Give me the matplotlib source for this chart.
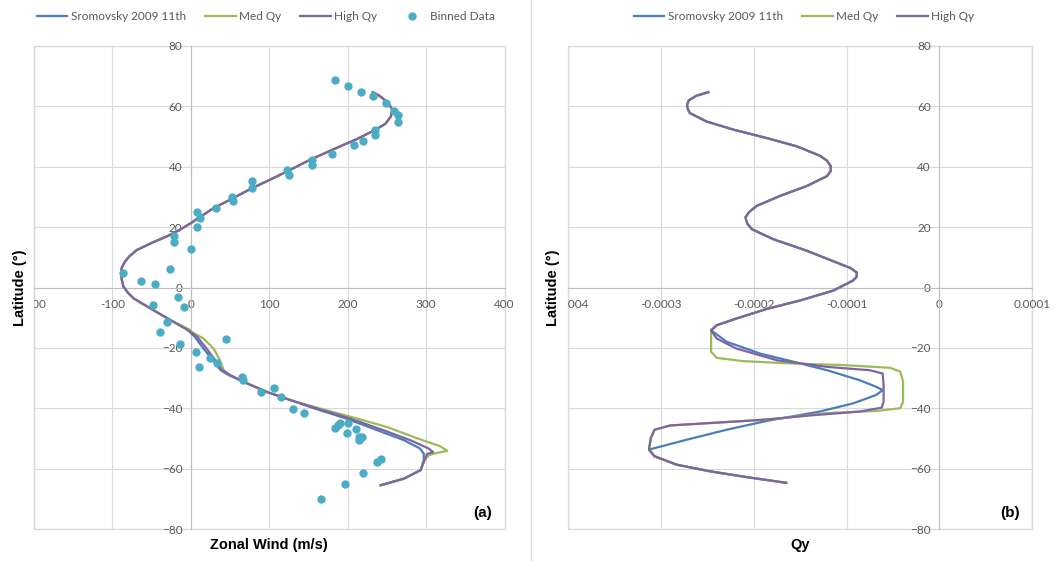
import numpy as np
import matplotlib
matplotlib.use('Agg')
import matplotlib.pyplot as plt
from matplotlib.lines import Line2D

# ---- data ----
# (a) zonal wind profiles, northern part shared by all three fits
north_lat = [64.7, 63.6, 62.4, 60.6, 58.9, 56.6, 54.2, 52.2, 49.2, 45.8, 42.3, 39.0, 35.7, 32.9,
             29.6, 26.3, 22.4, 21.3, 19.0, 17.0, 15.0, 12.4, 10.4, 8.6, 6.6, 4.7, 2.5, 0.3,
             -1.8, -3.6, -6.4, -10.8]
north_wind = [232, 240, 246, 253, 257, 255, 248, 235, 212, 182, 152, 127, 101, 78,
              54, 29, 6, 0, -15, -30, -48, -69, -78, -84, -88, -89, -88, -86,
              -80, -73, -55, -26]

srom_lat_s = [-13.9, -16.3, -20.2, -24.0, -27.4, -29.0, -31.8, -34.6, -37.3, -40.1,
              -43.4, -47.3, -50.6, -53.3, -55.0, -57.2, -60.5, -63.3, -65.5]
srom_wind_s = [-5, 5, 16, 28, 38, 48, 72, 97, 127, 158,
               198, 238, 272, 292, 297, 297, 293, 272, 242]

med_lat_s = [-13.9, -14.7, -16.9, -20.2, -24.0, -27.4, -29.0, -31.8, -34.6, -37.3,
             -40.1, -43.4, -46.2, -50.0, -52.6, -54.1, -54.8, -55.5, -57.2, -60.5,
             -63.3, -65.5]
med_wind_s = [-2, 1, 16, 29, 37, 42, 50, 72, 97, 127,
              165, 212, 250, 289, 318, 327, 314, 304, 298, 293,
              272, 242]

high_lat_s = [-13.9, -16.3, -20.2, -24.0, -27.4, -29.0, -31.8, -34.6, -37.3, -40.1,
              -43.4, -47.3, -50.6, -53.3, -54.5, -55.2, -57.2, -60.5, -63.3, -65.5]
high_wind_s = [-5, 8, 20, 31, 40, 50, 72, 97, 127, 161,
               203, 246, 280, 303, 309, 301, 298, 293, 272, 242]

binned_wind = [184, 201, 217, 232, 249, 259, 264, 264, 235, 235, 220, 208, 180, 155,
               154, 122, 125, 78, 78, 52, 54, 32, 8, 12, 8, 0, -86, -64, -46, -26,
               -21, -21, -17, -48, -9, -31, -39, -14, 7, 11, 45, 25, 34, 65, 67,
               90, 106, 115, 130, 144, 184, 188, 190, 201, 199, 210, 214, 218, 214,
               238, 243, 220, 196, 166]
binned_lat = [68.6, 66.8, 64.9, 63.3, 61.0, 58.6, 57.0, 54.8, 52.2, 50.5, 48.4, 47.2,
              44.3, 42.3, 40.7, 39.0, 37.3, 35.3, 33.1, 29.9, 28.7, 26.3, 25.1, 23.0,
              20.0, 12.8, 4.7, 2.3, 1.2, 6.0, 16.9, 15.2, -3.3, -5.8, -6.6, -11.5,
              -14.7, -18.7, -21.3, -26.5, -17.0, -23.5, -24.9, -29.6, -30.7, -34.6,
              -33.2, -36.2, -40.2, -41.7, -46.7, -45.6, -44.8, -44.8, -48.2, -47.0,
              -49.5, -49.5, -50.6, -57.8, -56.9, -61.3, -65.0, -70.2]

# (b) Qy profiles (units of 1e-4), northern part shared
qn_lat = [64.7, 63.5, 62.0, 60.5, 59.0, 57.8, 55.0, 52.3, 49.5, 46.8, 43.7, 42.0, 40.2,
          38.6, 36.9, 33.6, 30.3, 27.0, 25.0, 23.2, 21.2, 19.3, 16.0, 12.2, 8.3, 6.5,
          5.0, 3.6, 2.3, -1.0, -4.3, -7.1, -10.3, -12.5, -14.2]
qn_val = [-2.49, -2.62, -2.70, -2.72, -2.71, -2.69, -2.51, -2.22, -1.86, -1.54, -1.29, -1.21,
          -1.17, -1.17, -1.21, -1.43, -1.72, -1.97, -2.05, -2.09, -2.07, -2.02, -1.79, -1.43,
          -1.11, -0.96, -0.89, -0.89, -0.93, -1.14, -1.50, -1.86, -2.19, -2.40, -2.46]

q_srom_lat_s = [-18.0, -21.9, -24.6, -27.4, -30.7, -32.9, -34.0, -35.6, -38.4, -41.1,
                -44.2, -47.1, -50.4, -53.7, -55.9, -58.7, -60.9, -62.8, -64.7]
q_srom_val_s = [-2.29, -1.93, -1.57, -1.21, -0.86, -0.68, -0.61, -0.68, -0.93, -1.29,
                -1.86, -2.29, -2.72, -3.13, -3.07, -2.83, -2.47, -2.08, -1.65]

q_med_lat_s = [-21.3, -23.3, -24.4, -25.2, -25.7, -26.6, -27.9, -31.2, -37.8, -40.0,
               -40.9, -41.6, -43.5, -44.9, -45.7, -47.1, -49.9, -53.7, -55.9, -58.7,
               -60.9, -62.8, -64.7]
q_med_val_s = [-2.46, -2.40, -2.11, -1.57, -1.04, -0.53, -0.42, -0.39, -0.39, -0.42,
               -0.68, -1.21, -1.75, -2.47, -2.90, -3.07, -3.11, -3.13, -3.07, -2.83,
               -2.47, -2.08, -1.65]

q_high_lat_s = [-16.9, -20.2, -24.1, -26.3, -27.4, -28.5, -32.3, -37.8, -39.8, -41.1,
                -42.4, -43.9, -44.9, -45.7, -47.1, -49.9, -53.7, -55.9, -58.7, -60.9,
                -62.8, -64.7]
q_high_val_s = [-2.40, -2.19, -1.75, -1.21, -0.75, -0.61, -0.60, -0.60, -0.62, -0.86,
                -1.40, -1.93, -2.47, -2.90, -3.07, -3.11, -3.13, -3.07, -2.83, -2.47,
                -2.08, -1.65]

BLUE = '#4a7ebb'
GREEN = '#9bbb59'
PURPLE = '#8064a2'
AQUA = '#4bacc6'
GRID = '#d9d9d9'
TICK = '#595959'

plt.rcParams['font.family'] = ['Lato', 'DejaVu Sans']

fig = plt.figure(figsize=(10.53, 5.61), dpi=100)
W, H = 1053, 561
ax1 = fig.add_axes([34 / W, 1 - 529 / H, 470.5 / W, 483 / H])
ax2 = fig.add_axes([568.3 / W, 1 - 529 / H, 463.7 / W, 483 / H])


def style(ax, xticks, xlabels):
    ax.spines['left'].set_position(('data', 0))
    ax.spines['bottom'].set_position(('data', 0))
    for s in ['top', 'right']:
        ax.spines[s].set_visible(False)
    for s in ['left', 'bottom']:
        ax.spines[s].set_color('#bfbfbf')
        ax.spines[s].set_zorder(1)
    ax.grid(True, color=GRID, lw=0.8)
    ax.set_axisbelow(True)
    ax.patch.set_edgecolor(GRID)
    ax.patch.set_linewidth(1.0)
    ax.set_ylim(-80, 80)
    ax.set_yticks(range(-80, 81, 20))
    ax.set_xticks(xticks, xlabels)
    ax.set_xlim(xticks[0], xticks[-1])
    ax.tick_params(length=0, labelcolor=TICK, labelsize=8.5)
    ax.tick_params(axis='x', pad=8)
    ax.tick_params(axis='y', pad=6)
    # leftmost x label is cut by the plot edge, as in the original
    lab = ax.xaxis.get_major_ticks()[0].label1
    lab.set_clip_on(True)
    lab.set_clip_box(ax.bbox)


# ---- (a) ----
wx = [-200, -100, 0, 100, 200, 300, 400]
style(ax1, wx, [str(v) for v in wx])
ax1.plot(north_wind + srom_wind_s, north_lat + srom_lat_s, color=BLUE, lw=1.6,
         label='Sromovsky 2009 11th')
ax1.plot(north_wind + med_wind_s, north_lat + med_lat_s, color=GREEN, lw=1.6, label='Med Qy')
ax1.plot(north_wind + high_wind_s, north_lat + high_lat_s, color=PURPLE, lw=1.6, label='High Qy')
ax1.plot(binned_wind, binned_lat, 'o', color=AQUA, ms=5, label='Binned Data', zorder=3)
ax1.set_xlabel('Zonal Wind (m/s)', family='Liberation Sans', weight='bold', fontsize=10.5)
ax1.set_ylabel('Latitude (°)', family='Liberation Sans', weight='bold', fontsize=10.5)
ax1.xaxis.set_label_coords(0.5, -0.018)
ax1.yaxis.set_label_coords(-0.015, 0.5)
ax1.text(0.973, 0.033, '(a)', transform=ax1.transAxes, ha='right', va='center',
         family='Liberation Sans', weight='bold', fontsize=11)
ax1.legend(loc='center', bbox_to_anchor=(266 / W, 1 - 17 / H), bbox_transform=fig.transFigure,
           ncol=4, frameon=False, fontsize=8.5, handlelength=2.6, handletextpad=0.3,
           columnspacing=1.6, labelcolor=TICK)

# ---- (b) ----
qx = [-0.0004, -0.0003, -0.0002, -0.0001, 0, 0.0001]
style(ax2, qx, ['-0.0004', '-0.0003', '-0.0002', '-0.0001', '0', '0.0001'])
q_srom = np.array(qn_val + q_srom_val_s) * 1e-4
q_med = np.array(qn_val + q_med_val_s) * 1e-4
q_high = np.array(qn_val + q_high_val_s) * 1e-4
ax2.plot(q_srom, qn_lat + q_srom_lat_s, color=BLUE, lw=1.6, label='Sromovsky 2009 11th')
ax2.plot(q_med, qn_lat + q_med_lat_s, color=GREEN, lw=1.6, label='Med Qy')
ax2.plot(q_high, qn_lat + q_high_lat_s, color=PURPLE, lw=1.6, label='High Qy')
ax2.set_xlabel('Qy', family='Liberation Sans', weight='bold', fontsize=10.5)
ax2.set_ylabel('Latitude (°)', family='Liberation Sans', weight='bold', fontsize=10.5)
ax2.xaxis.set_label_coords(0.5, -0.018)
ax2.yaxis.set_label_coords(-0.018, 0.5)
ax2.text(0.974, 0.033, '(b)', transform=ax2.transAxes, ha='right', va='center',
         family='Liberation Sans', weight='bold', fontsize=11)
ax2.legend(loc='center', bbox_to_anchor=(804 / W, 1 - 17 / H), bbox_transform=fig.transFigure,
           ncol=3, frameon=False, fontsize=8.5, handlelength=2.6, handletextpad=0.3,
           columnspacing=1.6, labelcolor=TICK)

# divider between the two panels
fig.add_artist(Line2D([531 / W, 531 / W], [0, 1], transform=fig.transFigure,
                      color=GRID, lw=1.0))

fig.savefig('out.png', dpi=100)
